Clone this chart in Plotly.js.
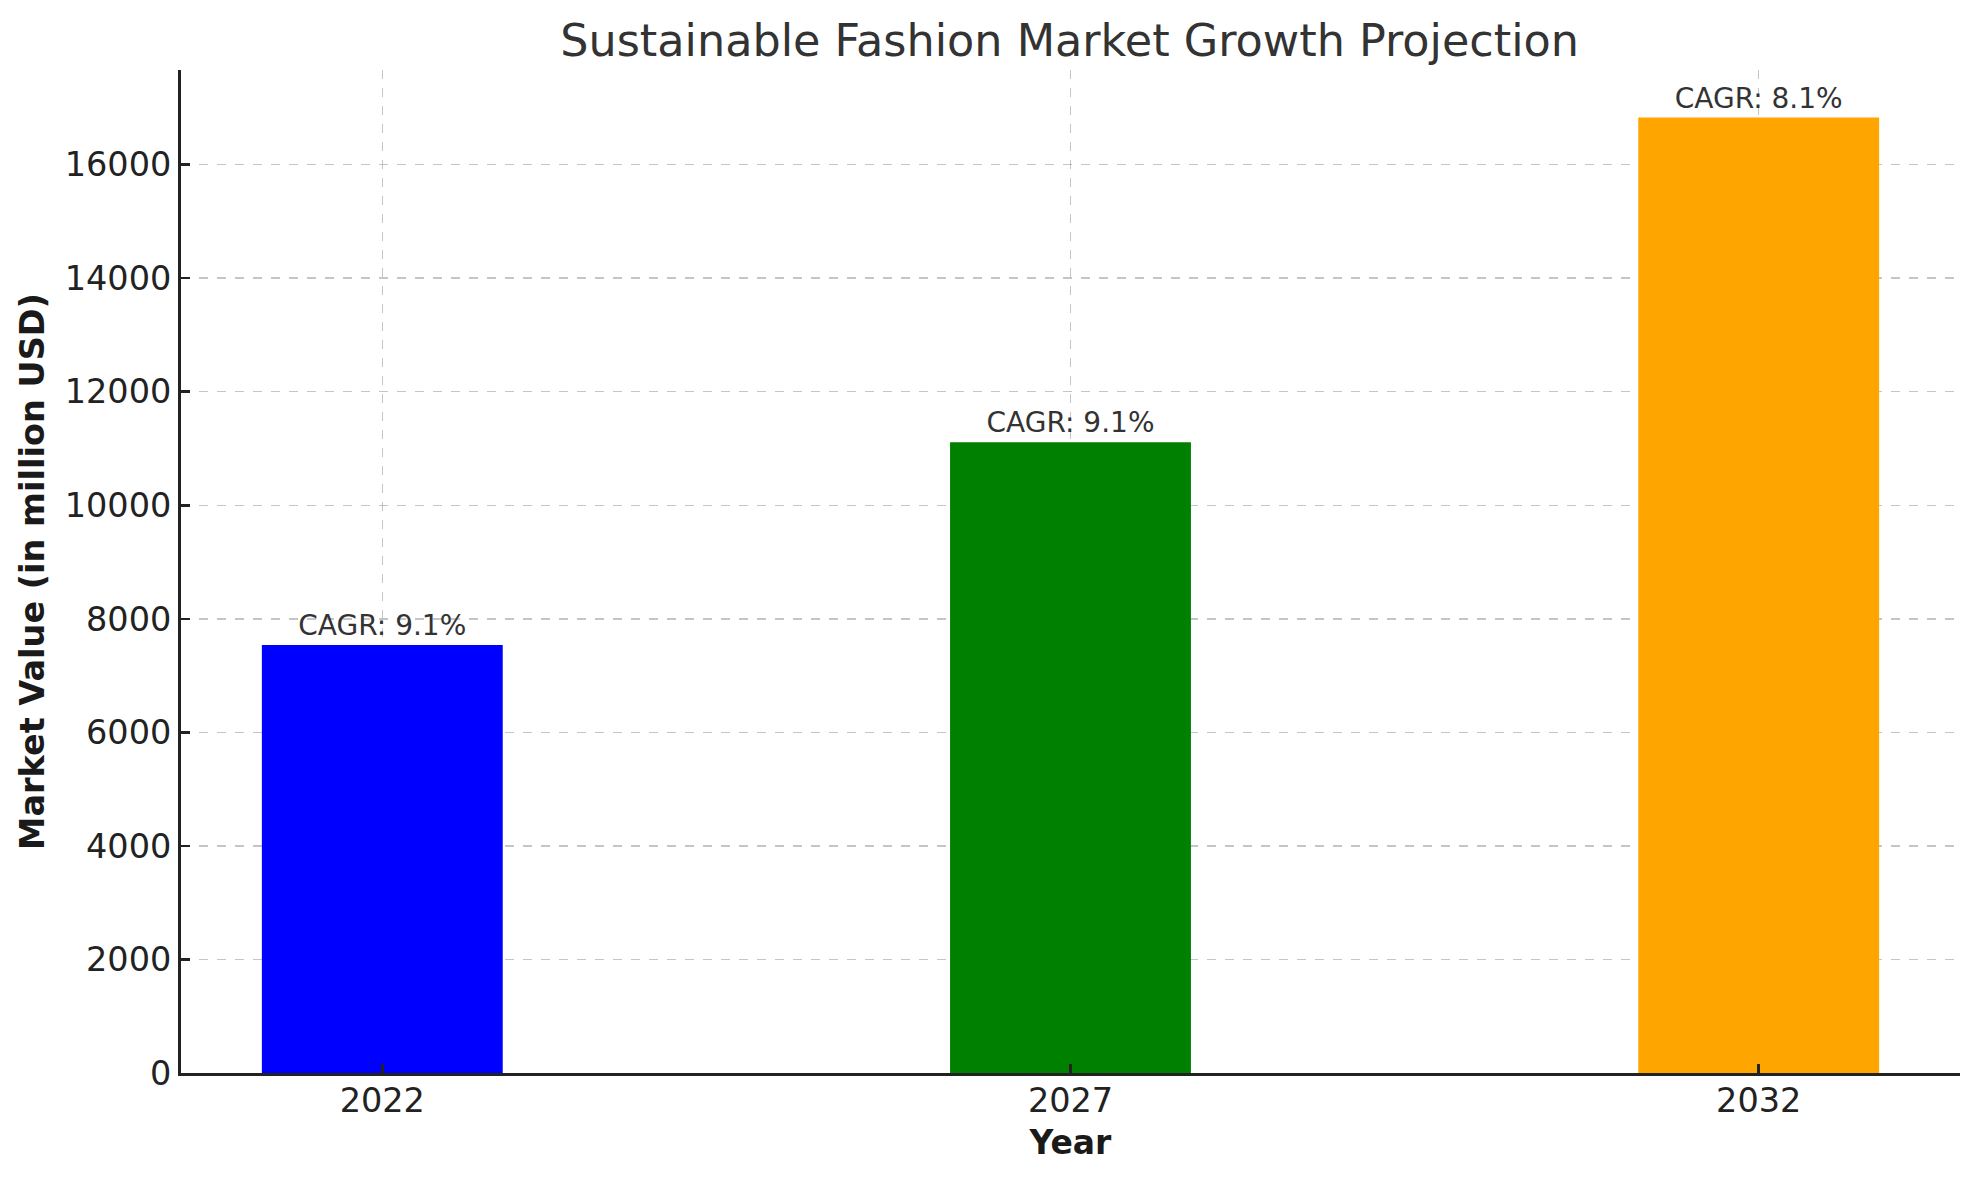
<!DOCTYPE html>
<html>
<head>
<meta charset="utf-8">
<script src="https://cdn.plot.ly/plotly-3.0.1.min.js"></script>
<style>
  html, body { margin: 0; padding: 0; background: #fff; }
  #chart { width: 1979px; height: 1180px; }
</style>
</head>
<body>
<div id="chart"></div>
<script>
// values
var years = [2022, 2027, 2032];
var marketValue = [7540, 11110, 16830];
var cagrLabels = ['CAGR: 9.1%', 'CAGR: 9.1%', 'CAGR: 8.1%'];
var barColors = ['blue', 'green', 'orange'];

var bars = {
  x: years,
  y: marketValue,
  type: 'bar',
  width: 1.75,
  marker: {color: barColors},
  text: cagrLabels,
  textposition: 'outside',
  cliponaxis: false,
  textfont: {family: 'DejaVu Sans', size: 28, color: '#333333'},
  hoverinfo: 'x+y'
};

var layout = {
  width: 1979,
  height: 1180,
  margin: {l: 181, r: 19, t: 70, b: 107},
  paper_bgcolor: '#ffffff',
  plot_bgcolor: '#ffffff',
  showlegend: false,
  font: {family: 'DejaVu Sans', color: '#222222'},
  title: {
    text: 'Sustainable Fashion Market Growth Projection',
    font: {family: 'DejaVu Sans', size: 44.5, color: '#333333'},
    x: 0.5405, xanchor: 'center',
    y: 0.966, yanchor: 'middle'
  },
  xaxis: {
    range: [2020.5375, 2033.4625],
    tickvals: years,
    ticktext: years.map(String),
    tickfont: {size: 33.5, color: '#222222'},
    ticklabelstandoff: -4,
    ticks: 'inside', ticklen: 9, tickwidth: 2.5, tickcolor: '#222222',
    showline: true, linecolor: '#222222', linewidth: 3,
    showgrid: true, gridcolor: 'rgba(150,150,150,0.55)', gridwidth: 1.5, griddash: 'dash',
    zeroline: false,
    layer: 'above traces',
    title: {text: '<b>Year</b>', font: {size: 33, color: '#1a1a1a'}, standoff: 12},
    automargin: false
  },
  yaxis: {
    range: [0, 17667],
    tickvals: [0, 2000, 4000, 6000, 8000, 10000, 12000, 14000, 16000],
    ticktext: ['0', '2000', '4000', '6000', '8000', '10000', '12000', '14000', '16000'],
    tickfont: {size: 33.5, color: '#222222'},
    ticks: 'inside', ticklen: 9, tickwidth: 2.5, tickcolor: '#222222',
    showline: true, linecolor: '#222222', linewidth: 3,
    showgrid: true, gridcolor: 'rgba(150,150,150,0.55)', gridwidth: 1.5, griddash: 'dash',
    zeroline: false,
    layer: 'above traces',
    title: {text: '<b>Market Value (in million USD)</b>', font: {size: 33.5, color: '#1a1a1a'}, standoff: 10},
    automargin: false
  }
};

Plotly.newPlot('chart', [bars], layout, {displayModeBar: false, staticPlot: true});
</script>
</body>
</html>
